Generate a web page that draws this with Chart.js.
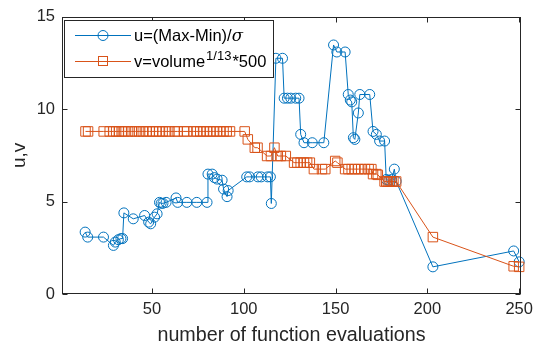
<!DOCTYPE html>
<html><head><meta charset="utf-8">
<script src="https://cdn.jsdelivr.net/npm/chart.js@4/dist/chart.umd.min.js"></script>
<style>html,body{margin:0;padding:0;background:#fff}#wrap{width:539px;height:347px}</style>
</head><body><div id="wrap"><canvas id="c" width="539" height="347"></canvas></div>
<script>
const uEvals = [13.6,15,23.6,29,30,31.7,33.1,34,34.7,39.8,46,48.2,49.3,51.4,52.8,54.1,55,56,57.7,63.1,64,69,74.4,80,80.5,82.8,84,85.5,88.2,89,90.9,91.5,101.6,103.2,107.7,109.5,113,114.5,115,117.5,121.1,122,123.8,125.6,128.3,130.1,131,132.8,137.3,143.6,148.9,150.7,155.2,156.9,158,158.8,159.7,160.5,162.4,163.2,168.6,170.4,172.2,174,176.7,177.6,179,180.5,182,183,203,247,250];
const uValues = [3.35,3.08,3.08,2.63,2.81,2.94,3.0,3.0,4.39,4.07,4.25,3.89,3.8,4.16,4.34,4.96,4.91,4.91,4.96,5.2,4.96,4.96,4.96,4.96,6.49,6.49,6.3,6.22,6.16,5.68,5.27,5.6,6.34,6.34,6.34,6.34,6.34,6.34,4.9,12.76,12.76,10.6,10.6,10.6,10.6,10.6,8.64,8.19,8.19,8.19,13.48,13.1,13.1,10.8,10.5,10.4,8.46,8.37,9.8,10.8,10.8,8.8,8.64,8.28,8.28,6.2,6.15,6.2,6.76,6.1,1.47,2.33,1.74];
const vEvals = [13.8,15.2,23.7,27,29,30.5,32,33.5,35,37,39,41,43,45,47,48.7,50.5,52.3,54,55.8,57.7,59.5,62.4,64,67.4,69.1,72.7,74.5,76.3,78.1,79.9,81.7,83.5,85.3,87.1,89,90.7,92.5,100.5,102.2,106,107.5,112.7,114.8,116.7,118.5,120.2,122.9,127.4,129.2,131,132.8,134.5,136,138.2,142.6,144.4,149.8,151,155.2,157,158.8,160.5,162.4,164,166,168,169.5,170.4,172.2,173,176.7,177.6,178.5,179.5,180.5,181.5,183,203,247,250];
const vValues = [8.8,8.8,8.8,8.8,8.8,8.8,8.8,8.8,8.8,8.8,8.8,8.8,8.8,8.8,8.8,8.8,8.8,8.8,8.8,8.8,8.8,8.8,8.8,8.8,8.8,8.8,8.8,8.8,8.8,8.8,8.8,8.8,8.8,8.8,8.8,8.8,8.8,8.8,8.8,8.37,7.92,7.92,7.47,7.47,7.92,7.47,7.47,7.47,7.11,7.11,7.11,7.11,7.11,7.11,6.76,6.76,6.76,7.2,7.11,6.76,6.76,6.76,6.76,6.76,6.76,6.76,6.76,6.76,6.49,6.49,6.45,6.09,6.09,6.09,6.09,6.09,6.09,6.09,3.08,1.5,1.47];
const xTicks = [50,100,150,200,250];
const yTicks = [0,5,10,15];
const xLabel = 'number of function evaluations';
const yLabel = 'u,v';

const BLUE = '#0072BD', ORANGE = '#D95319', AX = '#262626';
const FONT = '"Liberation Sans", Arial, Helvetica, sans-serif';

const framePlugin = {
  id: 'frame',
  afterDatasetsDraw(chart) {
    const {ctx, chartArea: a, scales: {x, y}} = chart;
    ctx.save();
    ctx.strokeStyle = AX; ctx.lineWidth = 1;
    const L = Math.round(a.left) + 0.5, R = Math.round(a.right) - 0.5;
    const T = Math.round(a.top) + 0.5, B = Math.round(a.bottom) - 0.5;
    ctx.strokeRect(L, T, R - L, B - T);
    ctx.beginPath();
    xTicks.forEach(t => {
      const px = Math.round(x.getPixelForValue(t)) + 0.5;
      ctx.moveTo(px, B); ctx.lineTo(px, B - 5);
      ctx.moveTo(px, T); ctx.lineTo(px, T + 5);
    });
    yTicks.forEach(t => {
      const py = Math.round(y.getPixelForValue(t)) + 0.5;
      ctx.moveTo(L, py); ctx.lineTo(L + 5, py);
      ctx.moveTo(R, py); ctx.lineTo(R - 5, py);
    });
    ctx.stroke();
    ctx.restore();
  }
};

const legendPlugin = {
  id: 'mlegend',
  afterDraw(chart) {
    const ctx = chart.ctx;
    ctx.save();
    const bx = 64.5, by = 20.5, bw = 209, bh = 57;
    ctx.fillStyle = '#fff'; ctx.fillRect(bx, by, bw, bh);
    ctx.strokeStyle = AX; ctx.lineWidth = 1; ctx.strokeRect(bx, by, bw, bh);
    const y1 = 35.5, y2 = 61.5;
    ctx.strokeStyle = BLUE;
    ctx.beginPath(); ctx.moveTo(75, y1); ctx.lineTo(131, y1); ctx.stroke();
    ctx.beginPath(); ctx.arc(103, y1, 5, 0, Math.PI * 2); ctx.stroke();
    ctx.strokeStyle = ORANGE;
    ctx.beginPath(); ctx.moveTo(75, y2); ctx.lineTo(131, y2); ctx.stroke();
    ctx.strokeRect(98.5, y2 - 5, 9, 9);
    ctx.fillStyle = '#000';
    ctx.textBaseline = 'middle'; ctx.textAlign = 'left';
    let tx = 134;
    ctx.font = '16.5px ' + FONT;
    const t1 = 'u=(Max-Min)/';
    ctx.fillText(t1, tx, y1 + 1);
    tx += ctx.measureText(t1).width;
    ctx.font = 'italic 16.5px "DejaVu Serif", serif';
    ctx.fillText('σ', tx, y1 + 1);
    tx = 134;
    ctx.font = '16.5px ' + FONT;
    const t2 = 'v=volume';
    ctx.fillText(t2, tx, y2 + 1);
    tx += ctx.measureText(t2).width + 1;
    ctx.font = '13px ' + FONT;
    ctx.fillText('1/13', tx, y2 - 5);
    tx += ctx.measureText('1/13').width + 1;
    ctx.font = '16.5px ' + FONT;
    ctx.fillText('*500', tx, y2 + 1);
    ctx.restore();
  }
};

const pts = (xs, ys) => xs.map((v, i) => ({x: v, y: ys[i]}));

new Chart(document.getElementById('c'), {
  type: 'line',
  data: {
    datasets: [
      { label: 'u=(Max-Min)/σ', data: pts(uEvals, uValues), borderColor: BLUE, borderWidth: 1,
        pointStyle: 'circle', pointRadius: 5, pointBorderWidth: 1, pointBorderColor: BLUE,
        pointBackgroundColor: 'rgba(0,0,0,0)', fill: false, tension: 0, order: 1, clip: 8 },
      { label: 'v=volume^(1/13)*500', data: pts(vEvals, vValues), borderColor: ORANGE, borderWidth: 1,
        pointStyle: 'rect', pointRadius: 6.7, pointBorderWidth: 1, pointBorderColor: ORANGE,
        pointBackgroundColor: 'rgba(0,0,0,0)', fill: false, tension: 0, order: 0, clip: 8 }
    ]
  },
  options: {
    responsive: false, animation: false, devicePixelRatio: 1,
    layout: { padding: { top: 15, right: 14, left: 0, bottom: 0 } },
    plugins: { legend: { display: false }, tooltip: { enabled: false } },
    scales: {
      x: {
        type: 'linear', position: 'bottom', min: 1, max: 251,
        afterBuildTicks: s => { s.ticks = xTicks.map(v => ({value: v})); },
        afterFit: s => { s.height = 53; },
        grid: { display: false, drawTicks: false }, border: { display: false },
        ticks: { color: AX, font: { family: FONT, size: 16.5 }, padding: 6, maxRotation: 0, autoSkip: false },
        title: { display: true, text: xLabel, color: AX, font: { family: FONT, size: 19.7 }, padding: { top: 3, bottom: 0 } }
      },
      y: {
        type: 'linear', min: 0, max: 15,
        afterBuildTicks: s => { s.ticks = yTicks.map(v => ({value: v})); },
        afterFit: s => { s.width = 62; },
        grid: { display: false, drawTicks: false }, border: { display: false },
        ticks: { color: AX, font: { family: FONT, size: 16.5 }, padding: 7 },
        title: { display: true, text: yLabel, color: AX, font: { family: FONT, size: 19 }, padding: { top: 8, bottom: 0 } }
      }
    }
  },
  plugins: [framePlugin, legendPlugin]
});
</script>
</body></html>
